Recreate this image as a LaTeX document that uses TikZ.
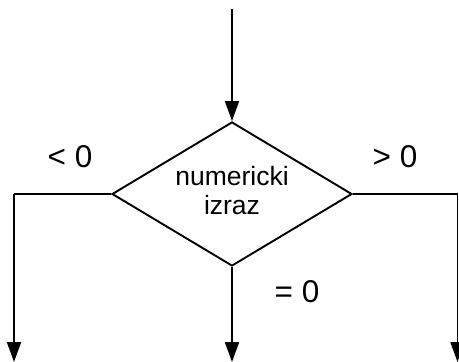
\documentclass[tikz,border=0pt]{standalone}
\usepackage{fontspec}
\setmainfont{Liberation Sans}
\usetikzlibrary{positioning}
\usetikzlibrary{shapes.geometric}
\usetikzlibrary{arrows.meta}
\tikzset{
  flow_arrow/.style={-{Triangle[length=20pt, width=14pt]}, line width=1.9pt, color=black},
  flow_line/.style={line width=1.9pt, color=black},
  decision/.style={diamond, draw, line width=1.9pt, aspect=1.667, minimum width=240pt, minimum height=144pt, inner sep=0, align=center, font=\fontsize{26.5}{29}\selectfont},
  branch_label/.style={draw = none, font=\fontsize{31.5}{36}\selectfont}}

\begin{document}
\begin{tikzpicture}[x=1pt, y=-1pt]

\useasboundingbox (0,0) rectangle (459,362);

% decision block
\node[decision] at (232,194) (cond) {};
\node[draw = none, align=center, font=\fontsize{26.5}{29}\selectfont] at (232,191) (cond_text) {numericki\\izraz};

% entry and exits
\coordinate (entry) at (232,9);
\coordinate (left_corner) at (14,194);
\coordinate (left_end) at (14,362);
\coordinate (right_corner) at (457.5,194);
\coordinate (right_end) at (457.5,362);
\coordinate (mid_end) at (232,362);

\draw[flow_arrow] (entry) -- (cond.north);
\draw[flow_line] (cond.west) -- (left_corner);
\draw[flow_arrow] (left_corner) -- (left_end);
\draw[flow_line] (cond.east) -- (right_corner);
\draw[flow_arrow] (right_corner) -- (right_end);
\draw[flow_arrow] (cond.south) -- (mid_end);

%%% branch labels
\node[branch_label] at (70,157) (lt) {< 0};
\node[branch_label] at (395,157) (gt) {> 0};
\node[branch_label] at (297,292) (eq) {= 0};

\end{tikzpicture}
\end{document}
